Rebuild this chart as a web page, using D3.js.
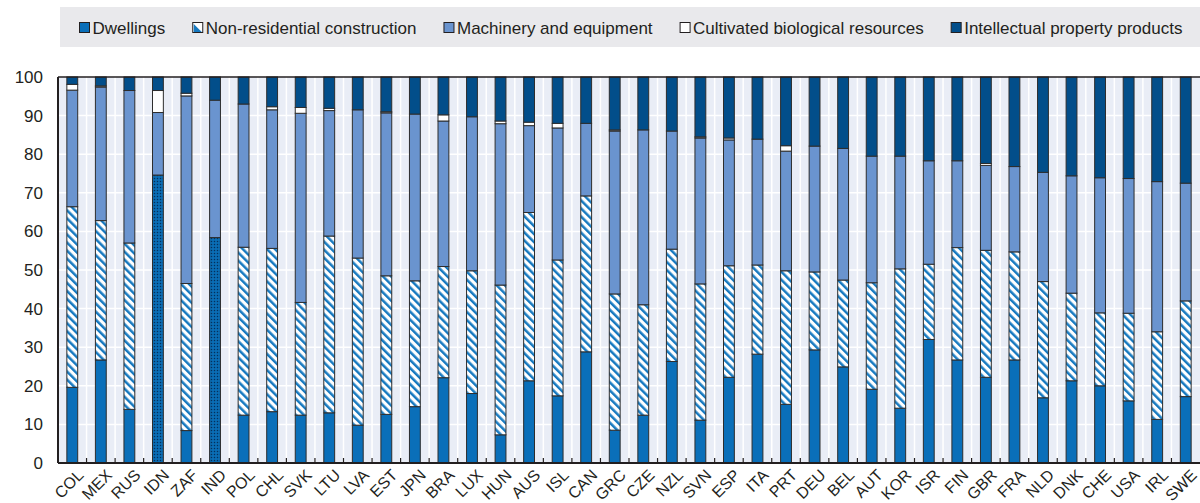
<!DOCTYPE html>
<html>
<head>
<meta charset="utf-8">
<script src="https://cdn.jsdelivr.net/npm/d3@7"></script>
<style>
  html, body { margin: 0; padding: 0; background: #ffffff; }
  svg { display: block; }
  text { font-family: "Liberation Sans", Arial, sans-serif; fill: #231f20; }
</style>
</head>
<body>
<svg id="chart" width="1200" height="503"></svg>
<script>
// ---- data (shares of GFCF, %) ----
const countries = ["COL","MEX","RUS","IDN","ZAF","IND","POL","CHL","SVK","LTU","LVA","EST","JPN","BRA","LUX","HUN","AUS","ISL","CAN","GRC","CZE","NZL","SVN","ESP","ITA","PRT","DEU","BEL","AUT","KOR","ISR","FIN","GBR","FRA","NLD","DNK","CHE","USA","IRL","SWE"];
const dwellings   = [19.6,26.7,13.9,null,8.4,null,12.4,13.3,12.4,13.0,9.8,12.6,14.6,22.1,18.0,7.3,21.3,17.4,28.8,8.5,12.4,26.3,11.1,22.2,28.2,15.2,29.3,24.9,19.1,14.2,32.0,26.7,22.2,26.7,16.9,21.3,20.0,16.1,11.3,17.2];
const nonResidential = [46.8,36.1,43.1,null,38.1,null,43.5,42.3,29.2,45.8,43.3,35.9,32.6,28.8,31.8,38.8,43.6,35.2,40.4,35.3,28.6,29.1,35.3,28.9,23.1,34.6,20.2,22.5,27.6,36.1,19.5,29.1,32.9,28.0,30.1,22.7,18.9,22.7,22.7,24.8];
const constructionTotal = [null,null,null,74.6,null,58.4,null,null,null,null,null,null,null,null,null,null,null,null,null,null,null,null,null,null,null,null,null,null,null,null,null,null,null,null,null,null,null,null,null,null];
const machinery   = [30.2,34.6,39.5,16.2,48.6,35.6,37.1,35.9,49.0,32.5,38.4,42.2,43.2,37.7,39.9,41.8,22.5,34.2,18.8,42.2,45.3,30.6,37.8,32.6,32.6,31.0,32.6,34.1,32.8,29.2,26.8,22.5,22.0,22.1,28.3,30.4,35.0,34.9,38.9,30.5];
const cultivated  = [1.5,0.3,0,5.7,0.7,0,0,0.8,1.5,0.6,0,0.3,0,1.6,0,0.7,0.9,1.2,0,0.3,0,0,0.3,0.5,0,1.4,0,0,0,0,0,0,0.5,0,0,0,0,0,0,0];
const ipp         = [1.9,2.3,3.5,3.5,4.2,6.0,7.0,7.7,7.9,8.1,8.5,9.0,9.6,9.8,10.3,11.4,11.7,12.0,12.0,13.7,13.7,14.0,15.5,15.8,16.1,17.8,17.9,18.5,20.5,20.5,21.7,21.7,22.4,23.2,24.7,25.6,26.1,26.3,27.1,27.5];
const yTicks = [0,10,20,30,40,50,60,70,80,90,100];
const legendLabels = ["Dwellings","Non-residential construction","Machinery and equipment","Cultivated biological resources","Intellectual property products"];

// ---- setup ----
const W = 1200, H = 503;
const margin = {left: 58, right: 0, top: 77, bottom: 40};
const svg = d3.select("#chart");

const colors = {
  dwellings: "#0a6fb9",
  stripe: "#1679c0",
  machinery: "#6a94cf",
  cultivated: "#ffffff",
  ipp: "#024e8a",
  dot: "#04305c",
  stroke: "#2d2d2d",
  plotBg: "#e9edf6",
  legendBg: "#e9e9ec"
};

const defs = svg.append("defs");
const stripes = defs.append("pattern")
  .attr("id","stripes").attr("patternUnits","userSpaceOnUse")
  .attr("width",5.7).attr("height",5.7)
  .attr("patternTransform","rotate(-45)");
stripes.append("rect").attr("width",5.7).attr("height",5.7).attr("fill","#ffffff");
stripes.append("rect").attr("width",2.5).attr("height",5.7).attr("fill",colors.stripe);

const dots = defs.append("pattern")
  .attr("id","dots").attr("patternUnits","userSpaceOnUse")
  .attr("width",3).attr("height",3);
dots.append("rect").attr("width",3).attr("height",3).attr("fill",colors.dwellings);
dots.append("rect").attr("x",0.8).attr("y",0.8).attr("width",1.4).attr("height",1.4).attr("fill",colors.dot);

const x = d3.scaleBand().domain(countries).range([margin.left, W]).paddingInner(0.62).paddingOuter(0.31);
const y = d3.scaleLinear().domain([0,100]).range([463, 77]);

// plot background
svg.append("rect").attr("x", margin.left).attr("y", y(100)).attr("width", W - margin.left).attr("height", y(0) - y(100)).attr("fill", colors.plotBg);

// horizontal gridlines
svg.append("g").selectAll("line").data(yTicks.filter(d => d > 0 && d < 100)).join("line")
  .attr("x1", margin.left).attr("x2", W).attr("y1", d => y(d)).attr("y2", d => y(d))
  .attr("stroke", "#ffffff").attr("stroke-width", 1.5);

// vertical gridlines at band boundaries
const step = x.step();
const boundaries = countries.slice(1).map(c => x(c) - (step - x.bandwidth())/2);
svg.append("g").selectAll("line").data(boundaries).join("line")
  .attr("x1", d => d).attr("x2", d => d).attr("y1", y(100)).attr("y2", y(0))
  .attr("stroke", "#ffffff").attr("stroke-width", 1.5);

// stacked data
const keys = ["dwellings","nonResidential","constructionTotal","machinery","cultivated","ipp"];
const rows = countries.map((c,i) => ({
  country: c,
  dwellings: dwellings[i] || 0,
  nonResidential: nonResidential[i] || 0,
  constructionTotal: constructionTotal[i] || 0,
  machinery: machinery[i] || 0,
  cultivated: cultivated[i] || 0,
  ipp: ipp[i] || 0
}));
const series = d3.stack().keys(keys)(rows);
const fills = {
  dwellings: colors.dwellings,
  nonResidential: "url(#stripes)",
  constructionTotal: "url(#dots)",
  machinery: colors.machinery,
  cultivated: colors.cultivated,
  ipp: colors.ipp
};

svg.append("g").selectAll("g").data(series).join("g")
  .attr("fill", d => fills[d.key])
  .selectAll("rect").data(d => d.filter(s => s[1] - s[0] > 0)).join("rect")
  .attr("x", d => x(d.data.country))
  .attr("width", x.bandwidth())
  .attr("y", d => y(d[1]))
  .attr("height", d => y(d[0]) - y(d[1]))
  .attr("stroke", colors.stroke)
  .attr("stroke-width", 1);

// axes lines
svg.append("line").attr("x1", margin.left).attr("x2", W).attr("y1", y(100)).attr("y2", y(100)).attr("stroke", "#231f20").attr("stroke-width", 1.5);
svg.append("line").attr("x1", margin.left).attr("x2", W).attr("y1", y(0)).attr("y2", y(0)).attr("stroke", "#231f20").attr("stroke-width", 2);
svg.append("line").attr("x1", margin.left).attr("x2", margin.left).attr("y1", y(100)).attr("y2", y(0)).attr("stroke", "#231f20").attr("stroke-width", 2);

// x tick marks at boundaries (inside)
svg.append("g").selectAll("line").data(boundaries).join("line")
  .attr("x1", d => d).attr("x2", d => d).attr("y1", y(0)).attr("y2", y(0) - 5)
  .attr("stroke", "#231f20").attr("stroke-width", 1.2);

// y labels
svg.append("g").selectAll("text").data(yTicks).join("text")
  .attr("x", 43).attr("y", d => y(d)).attr("dy", "0.35em")
  .attr("text-anchor", "end").attr("font-size", 17).text(d => d);

// x labels rotated
svg.append("g").selectAll("text").data(countries).join("text")
  .attr("transform", d => `translate(${x(d) + x.bandwidth()/2 + 4},${y(0) + 5}) rotate(-45)`)
  .attr("text-anchor", "end").attr("dy", "0.72em").attr("font-size", 16).text(d => d);

// legend
const lg = svg.append("g");
lg.append("rect").attr("x", 60).attr("y", 7).attr("width", W - 60).attr("height", 40).attr("fill", colors.legendBg);
let lx = 79;
const legendFills = [colors.dwellings, null, colors.machinery, colors.cultivated, colors.ipp];
legendLabels.forEach((lab, i) => {
  const g = lg.append("g").attr("transform", `translate(${lx},22)`);
  g.append("rect").attr("x", 0.5).attr("y", 0.5).attr("width", 10).attr("height", 10)
    .attr("fill", legendFills[i] || "#ffffff").attr("stroke", "#231f20").attr("stroke-width", 1);
  if (i === 1) {
    g.append("path").attr("d", "M1.5,2 L1.5,10 L9.5,10 Z").attr("fill", colors.stripe);
  }
  const t = g.append("text").attr("x", 13.5).attr("y", 5.5).attr("dy", "0.36em").attr("font-size", 17).text(lab);
  lx += 13.5 + t.node().getComputedTextLength() + 27;
});
</script>
</body>
</html>
